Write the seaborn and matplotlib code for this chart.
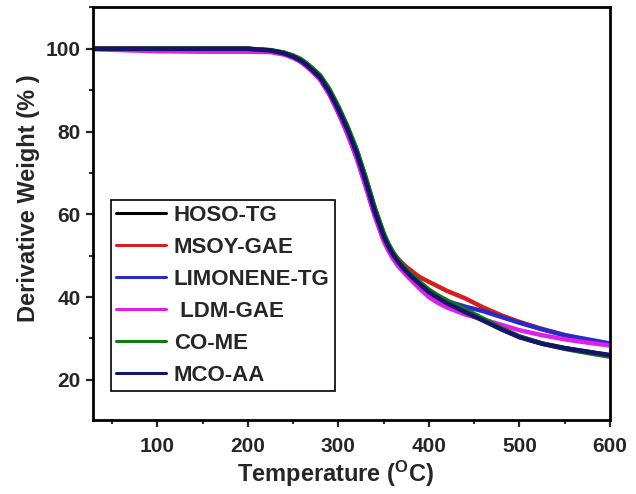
import numpy as np
import pandas as pd
import matplotlib
matplotlib.use("Agg")
import matplotlib.pyplot as plt
from matplotlib.ticker import MultipleLocator
from matplotlib.lines import Line2D
import seaborn as sns

# ---- data ----
temps = [30, 100, 150, 200, 225, 240, 250, 258, 265, 272, 280, 290, 300, 310, 320, 330, 340,
         350, 355, 360, 365, 370, 375, 380, 385, 390, 400, 410, 420, 440, 460, 480, 500,
         525, 550, 575, 600]

hoso_tg = [100, 100, 100, 100, 99.6, 99.0, 98.2, 97.4, 96.3, 95.0, 93.3, 90.0, 85.8, 81.0, 75.5,
           68.8, 61.5, 55.2, 52.8, 50.8, 49.1, 47.6, 46.3, 45.2, 44.2, 43.2, 41.3, 39.9, 38.6,
           36.6, 34.5, 32.3, 30.4, 28.8, 27.7, 26.8, 25.9]
msoy_gae = [100, 100, 100, 100, 99.6, 99.0, 98.2, 97.3, 96.2, 94.9, 93.2, 89.9, 85.6, 80.8, 75.2,
            68.5, 61.2, 55.0, 52.7, 50.9, 49.5, 48.3, 47.3, 46.5, 45.6, 44.8, 43.7, 42.6, 41.5,
            39.7, 37.5, 35.6, 34.0, 32.3, 30.8, 29.6, 28.5]
limonene_tg = [100, 100, 100, 100, 99.5, 98.8, 97.9, 97.0, 95.8, 94.4, 92.6, 89.1, 84.6, 79.6,
               73.9, 67.0, 59.9, 53.9, 51.6, 49.8, 48.3, 47.0, 45.9, 45.0, 43.9, 42.8, 41.0,
               40.0, 39.0, 37.7, 36.6, 35.2, 33.8, 32.2, 30.8, 29.8, 28.8]
ldm_gae = [99.9, 99.4, 99.3, 99.3, 99.2, 98.6, 97.8, 96.9, 95.7, 94.3, 92.5, 89.0, 84.5, 79.4,
           73.7, 66.8, 59.7, 53.6, 51.3, 49.4, 47.8, 46.5, 45.3, 44.2, 43.1, 42.0, 40.0, 38.6,
           37.5, 35.8, 34.6, 33.3, 32.0, 30.8, 29.8, 29.0, 28.3]
co_me = [100, 100, 100, 100, 99.7, 99.1, 98.4, 97.6, 96.5, 95.2, 93.6, 90.3, 86.1, 81.3, 75.8,
         69.1, 61.8, 55.5, 53.0, 51.0, 49.3, 47.9, 46.7, 45.6, 44.6, 43.6, 41.8, 40.4, 39.2,
         37.0, 34.8, 32.5, 30.5, 28.8, 27.5, 26.5, 25.6]
mco_aa = [100, 100, 100, 100, 99.6, 98.9, 98.1, 97.2, 96.1, 94.7, 93.0, 89.6, 85.3, 80.5, 74.9,
          68.1, 60.8, 54.7, 52.3, 50.4, 48.8, 47.4, 46.2, 45.1, 44.1, 43.1, 41.2, 39.8, 38.5,
          36.4, 34.3, 32.2, 30.3, 28.7, 27.6, 26.8, 26.0]

series_names = ["HOSO-TG", "MSOY-GAE", "LIMONENE-TG", " LDM-GAE", "CO-ME", "MCO-AA"]
series_values = [hoso_tg, msoy_gae, limonene_tg, ldm_gae, co_me, mco_aa]
series_colors = ["#000000", "#d42020", "#2a2ac8", "#e020e8", "#107a10", "#14146a"]

x_ticks = [100, 200, 300, 400, 500, 600]
y_ticks = [20, 40, 60, 80, 100]

df = pd.concat(
    [pd.DataFrame({"T": temps, "W": v, "Sample": n}) for n, v in zip(series_names, series_values)],
    ignore_index=True,
)

sns.set_style("ticks")
plt.rcParams["font.family"] = ["Liberation Sans", "DejaVu Sans"]
plt.rcParams["font.weight"] = "bold"
plt.rcParams["mathtext.default"] = "regular"

fig = plt.figure(figsize=(6.36, 4.94), dpi=100)
ax = fig.add_axes([93 / 636, 1 - 420 / 494, (610 - 93) / 636, (420 - 7) / 494])

sns.lineplot(data=df, x="T", y="W", hue="Sample", hue_order=series_names,
             palette=dict(zip(series_names, series_colors)), linewidth=3.2,
             ax=ax, legend=False, sort=False)

ax.set_xlim(29, 600)
ax.set_ylim(10.3, 110.1)
ax.set_xticks(x_ticks)
ax.set_yticks(y_ticks)
ax.xaxis.set_minor_locator(MultipleLocator(50))
ax.yaxis.set_minor_locator(MultipleLocator(10))
ax.tick_params(which="major", direction="out", length=5, width=1.6, labelsize=15)
ax.tick_params(axis="x", which="major", pad=7)
ax.tick_params(axis="y", which="major", pad=4)
ax.tick_params(which="minor", direction="out", length=3, width=1.4)
for lab in ax.get_xticklabels() + ax.get_yticklabels():
    lab.set_fontweight("bold")
for s in ax.spines.values():
    s.set_linewidth(2)
    s.set_color("black")

ax.set_xlabel(r"Temperature ($\mathregular{^{O}}$C)", fontsize=17, fontweight="bold", labelpad=2)
ax.set_ylabel("Derivative Weight (% )", fontsize=17, fontweight="bold", labelpad=4)
ax.xaxis.label.set_x(0.47)
ax.yaxis.label.set_y(0.537)

handles = [Line2D([], [], color=c, linewidth=2.2) for c in series_colors]
leg = ax.legend(handles, series_names, loc="lower left",
                bbox_to_anchor=((111 - 93) / 517, (420 - 391) / 413),
                borderaxespad=0, frameon=True, fancybox=False,
                handlelength=2.25, handletextpad=0.36, labelspacing=0.5,
                borderpad=0.22, prop={"weight": "bold", "size": 16})
leg.get_frame().set_edgecolor("black")
leg.get_frame().set_linewidth(1.2)
leg.get_frame().set_alpha(1)

fig.savefig("out.png", dpi=100)
